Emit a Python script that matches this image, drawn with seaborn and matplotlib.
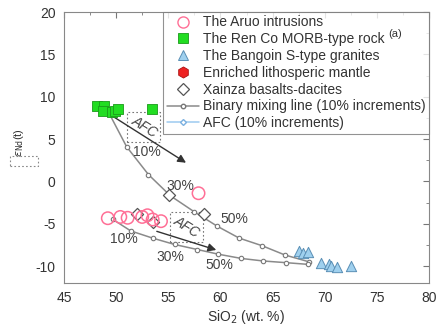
import numpy as np
import pandas as pd
import matplotlib
matplotlib.use("Agg")
import matplotlib.pyplot as plt
import seaborn as sns
from matplotlib.lines import Line2D
from matplotlib.patches import Rectangle
from matplotlib.ticker import MultipleLocator

# ---- data ----
aruo_sio2 = [49.2, 50.4, 51.1, 52.5, 53.0, 53.5, 54.3, 57.9]
aruo_end = [-4.35, -4.2, -4.3, -4.2, -4.0, -4.5, -4.7, -1.4]
renco_sio2 = [48.2, 48.8, 48.7, 49.6, 49.9, 50.2, 53.4]
renco_end = [8.9, 8.9, 8.3, 8.2, 8.3, 8.6, 8.5]
bangoin_sio2 = [67.5, 67.9, 68.4, 69.6, 70.4, 70.6, 71.2, 72.5]
bangoin_end = [-8.2, -8.4, -8.3, -9.6, -9.8, -10.0, -10.1, -10.0]
xainza_sio2 = [52.0, 53.5, 55.1, 58.4]
xainza_end = [-3.8, -4.8, -1.65, -3.8]
mix1_sio2 = [49.3, 51.0, 53.1, 55.2, 57.5, 59.7, 61.8, 64.0, 66.2, 68.5]
mix1_end = [8.1, 4.1, 0.8, -1.7, -3.6, -5.3, -6.7, -7.6, -8.7, -9.5]
mix2_sio2 = [49.7, 51.4, 53.5, 55.6, 57.8, 59.8, 62.0, 64.1, 66.3, 68.4]
mix2_end = [-4.5, -5.85, -6.7, -7.45, -8.05, -8.6, -9.1, -9.4, -9.6, -9.8]
afc1_start = (49.4, 7.9)
afc1_end = (56.7, 2.2)
afc2_start = (53.9, -5.9)
afc2_end = (59.6, -8.1)
pct_labels = ["10%", "30%", "50%", "10%", "30%", "50%"]
pct_x = [52.9, 56.2, 61.3, 50.7, 55.2, 59.9]
pct_y = [3.5, -0.5, -4.5, -6.8, -8.9, -9.9]

sns.set_style("white")
plt.rcParams['font.family'] = ['Liberation Sans', 'DejaVu Sans']
plt.rcParams['axes.unicode_minus'] = False

fig = plt.figure(figsize=(4.38, 3.30), dpi=100)
ax = fig.add_axes([64/438, 1-283/330, (429-64)/438, (283-12)/330])

gray = "#8a8a8a"
mix1 = pd.DataFrame({"x": mix1_sio2, "y": mix1_end})
mix2 = pd.DataFrame({"x": mix2_sio2, "y": mix2_end})
for df in (mix1, mix2):
    sns.lineplot(data=df, x="x", y="y", sort=False, ax=ax, color=gray, lw=1.1,
                 marker="o", markersize=3.2, markerfacecolor="white",
                 markeredgecolor="#777777", markeredgewidth=0.8, zorder=2)

# AFC arrows
for s, e in [(afc1_start, afc1_end), (afc2_start, afc2_end)]:
    ax.annotate("", xy=e, xytext=s,
                arrowprops=dict(arrowstyle="-|>", color="#333333", lw=1.0,
                                mutation_scale=12, shrinkA=0, shrinkB=0), zorder=3)

sns.scatterplot(x=renco_sio2, y=renco_end, ax=ax, marker="s", s=42,
                color="#22dd22", edgecolor="#1a9a1a", linewidth=0.6, zorder=4)
sns.scatterplot(x=bangoin_sio2, y=bangoin_end, ax=ax, marker="^", s=55,
                color="#9fd0ee", edgecolor="#5a8fb5", linewidth=0.7, zorder=4)
sns.scatterplot(x=xainza_sio2, y=xainza_end, ax=ax, marker="D", s=38,
                facecolor="white", edgecolor="#555555", linewidth=0.9, zorder=4)
sns.scatterplot(x=aruo_sio2, y=aruo_end, ax=ax, marker="o", s=80,
                facecolor="none", edgecolor="#ff6f96", linewidth=1.1, zorder=5)

# percent labels
for t, x, y in zip(pct_labels, pct_x, pct_y):
    ax.text(x, y, t, fontsize=10, color="#444444", ha="center", va="center", zorder=6)

# AFC dotted boxes and labels
for (x0, x1, y0, y1), (tx, ty) in [((51.0, 54.2, 4.7, 8.2), (52.7, 6.4)),
                                    ((55.2, 58.3, -7.2, -3.6), (56.8, -5.4))]:
    ax.add_patch(Rectangle((x0, y0), x1-x0, y1-y0, fill=False, ls=(0, (1.5, 2)),
                           lw=0.8, ec="#777777", zorder=1))
    ax.text(tx, ty, "AFC", fontsize=10, rotation=-32, style="italic",
            color="#444444", ha="center", va="center", zorder=6)

ax.set_xlim(45, 80)
ax.set_ylim(-12, 20)
ax.xaxis.set_major_locator(MultipleLocator(5))
ax.xaxis.set_minor_locator(MultipleLocator(2.5))
ax.yaxis.set_major_locator(MultipleLocator(5))
ax.yaxis.set_minor_locator(MultipleLocator(2.5))
ax.set_yticks([-10, -5, 0, 5, 10, 15, 20])
ax.tick_params(which="both", direction="in", top=True, right=True, color="#777777")
ax.tick_params(which="major", length=4, labelsize=10, labelcolor="#333333", pad=6)
ax.tick_params(which="minor", length=2)
for sp in ax.spines.values():
    sp.set_color("#888888")
    sp.set_linewidth(0.8)

ax.set_xlabel("SiO$_2$ (wt. %)", fontsize=10, color="#333333", labelpad=2)
ax.set_ylabel(r"$\varepsilon_{\rm Nd}$(t)", fontsize=8, color="#333333")
ax.yaxis.set_label_coords(-0.105, 0.52)

# legend
handles = [
    Line2D([], [], ls="none", marker="o", ms=8, mfc="none", mec="#ff6f96", mew=1.0),
    Line2D([], [], ls="none", marker="s", ms=6.5, mfc="#22dd22", mec="#1a9a1a", mew=0.6),
    Line2D([], [], ls="none", marker="^", ms=7.5, mfc="#9fd0ee", mec="#5a8fb5", mew=0.7),
    Line2D([], [], ls="none", marker="h", ms=8, mfc="#ee2222", mec="#aa1111", mew=0.6),
    Line2D([], [], ls="none", marker="D", ms=6.5, mfc="white", mec="#555555", mew=0.9),
    Line2D([], [], color=gray, lw=1.1, marker="o", ms=3.2, mfc="white", mec="#777777"),
    Line2D([], [], color="#9ccaf0", lw=1.1, marker="D", ms=3, mfc="white", mec="#7ab0e0"),
]
labels = ["The Aruo intrusions", "The Ren Co MORB-type rock",
          "The Bangoin S-type granites", "Enriched lithosperic mantle",
          "Xainza basalts-dacites", "Binary mixing line (10% increments)",
          "AFC (10% increments)"]
leg = ax.legend(handles, labels, loc="upper right", fontsize=10, frameon=True,
                fancybox=False, borderaxespad=0, borderpad=0.25, labelspacing=0.2,
                handlelength=2.3, handletextpad=0.3, labelcolor="#333333")
leg.get_frame().set_edgecolor("#777777")
leg.get_frame().set_linewidth(0.8)
leg.set_zorder(8)

ax.text(388, 330-34, "(a)", transform=None, fontsize=8, color="#333333",
        ha="left", va="center", zorder=10)

# small dotted box near y label
fig.patches.append(Rectangle((10/438, 1-166/330), 28/438, 10/330, fill=False,
                             ls=(0, (1.5, 2)), lw=0.8, ec="#888888",
                             transform=fig.transFigure))

fig.savefig("out.png", dpi=100)
